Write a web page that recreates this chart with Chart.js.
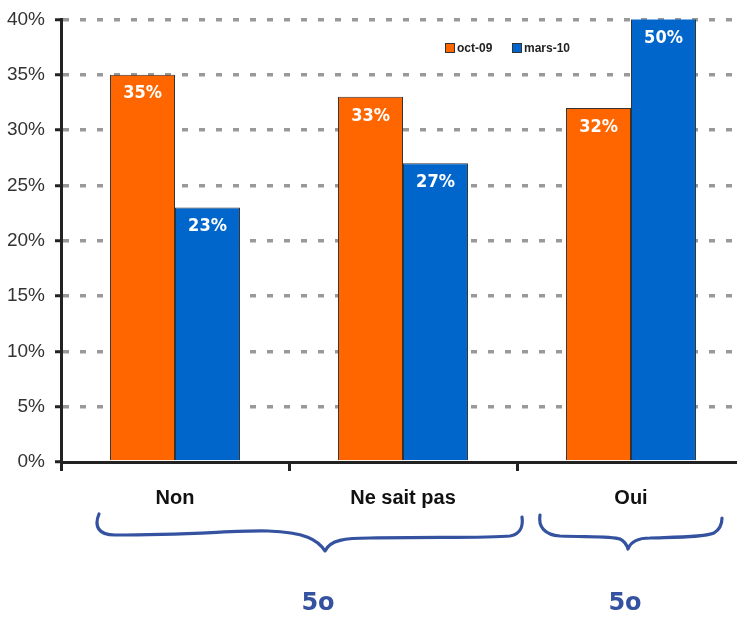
<!DOCTYPE html>
<html>
<head>
<meta charset="utf-8">
<script src="https://cdn.jsdelivr.net/npm/chart.js@4/dist/chart.umd.min.js"></script>
<style>
  html, body { margin: 0; padding: 0; background: #fff; }
  #wrap { width: 737px; height: 621px; overflow: hidden; }
  #chart { display: block; margin-top: -2px; }
</style>
</head>
<body>
<div id="wrap"><canvas id="chart" width="745" height="623"></canvas></div>
<script>
// Survey answers, two waves
const categories = ["Non", "Ne sait pas", "Oui"];
const seriesNames = ["oct-09", "mars-10"];
const oct09 = [35, 33, 32];
const mars10 = [23, 27, 50];
const yTicks = [0, 5, 10, 15, 20, 25, 30, 35, 40];

// Hand-written totals under the braces
const braceNotes = ["5o", "5o"];

const ORANGE = "#FF6600";
const BLUE = "#0066CC";
const INK = "#34529f";
const SHIFT = 2; // canvas is pulled up by this much

// White value labels inside the top of each bar
const valueLabels = {
    id: "valueLabels",
    afterDatasetsDraw(chart) {
        const ctx = chart.ctx;
        const top = chart.chartArea.top;
        ctx.save();
        ctx.fillStyle = "#fff";
        ctx.font = "bold 18px 'DejaVu Sans Condensed', 'Liberation Sans Narrow', 'DejaVu Sans', sans-serif";
        ctx.textAlign = "center";
        ctx.textBaseline = "middle";
        chart.data.datasets.forEach((ds, i) => {
            chart.getDatasetMeta(i).data.forEach((bar, j) => {
                const y = Math.max(bar.y, top) + 19;
                ctx.fillText(Math.round(ds.data[j]) + "%", bar.x, y);
            });
        });
        ctx.restore();
    }
};

// Small legend sitting inside the plot area
const innerLegend = {
    id: "innerLegend",
    afterDraw(chart) {
        const ctx = chart.ctx;
        const spots = [445, 512];
        ctx.save();
        ctx.translate(0, SHIFT);
        ctx.font = "bold 12px 'Liberation Sans', Arial, sans-serif";
        ctx.textBaseline = "middle";
        chart.data.datasets.forEach((ds, i) => {
            const x = spots[i];
            ctx.fillStyle = ds.backgroundColor;
            ctx.fillRect(x, 43, 9, 9);
            ctx.strokeStyle = "#333";
            ctx.lineWidth = 1;
            ctx.strokeRect(x + 0.5, 43.5, 9, 9);
            ctx.fillStyle = "#222";
            ctx.fillText(ds.label, x + 12, 48.5);
        });
        ctx.restore();
    }
};

// Curly braces grouping the answers, with a note under each
const braces = {
    id: "braces",
    afterDraw(chart) {
        const ctx = chart.ctx;
        ctx.save();
        ctx.translate(0, SHIFT);
        ctx.strokeStyle = INK;
        ctx.lineWidth = 3.2;
        ctx.lineCap = "round";
        ctx.lineJoin = "round";

        ctx.beginPath();
        ctx.moveTo(99, 514);
        ctx.bezierCurveTo(94, 526, 98, 535, 115, 535);
        ctx.bezierCurveTo(190, 535, 240, 530, 268, 531);
        ctx.bezierCurveTo(305, 532, 318, 540, 325, 551);
        ctx.bezierCurveTo(330, 540, 345, 538, 370, 538);
        ctx.bezierCurveTo(440, 537, 490, 538, 510, 536);
        ctx.bezierCurveTo(522, 534, 523, 524, 522, 517);
        ctx.stroke();

        ctx.beginPath();
        ctx.moveTo(540, 515);
        ctx.bezierCurveTo(538, 527, 545, 535, 560, 536);
        ctx.bezierCurveTo(590, 537, 612, 536, 620, 539);
        ctx.quadraticCurveTo(626, 542, 628, 549);
        ctx.bezierCurveTo(631, 541, 638, 538, 650, 538);
        ctx.bezierCurveTo(680, 537, 705, 537, 714, 533);
        ctx.quadraticCurveTo(722, 528, 722, 518);
        ctx.stroke();

        ctx.fillStyle = INK;
        ctx.font = "bold 24px 'DejaVu Sans', sans-serif";
        ctx.textAlign = "center";
        ctx.textBaseline = "middle";
        ctx.fillText(braceNotes[0], 318, 604);
        ctx.fillText(braceNotes[1], 625, 604);
        ctx.restore();
    }
};

new Chart(document.getElementById("chart"), {
    type: "bar",
    data: {
        labels: categories,
        datasets: [
            {
                label: seriesNames[0],
                data: oct09,
                backgroundColor: ORANGE,
                borderColor: "#333",
                borderWidth: 1
            },
            {
                label: seriesNames[1],
                data: mars10,
                backgroundColor: BLUE,
                borderColor: "#333",
                borderWidth: 1
            }
        ]
    },
    options: {
        responsive: false,
        devicePixelRatio: 1,
        animation: false,
        layout: { padding: { top: 17, right: 0, left: 0, bottom: 0 } },
        datasets: {
            bar: { categoryPercentage: 0.57, barPercentage: 1 }
        },
        plugins: {
            legend: { display: false },
            tooltip: { enabled: false }
        },
        scales: {
            x: {
                grid: {
                    drawOnChartArea: false,
                    drawTicks: true,
                    tickLength: 9,
                    tickWidth: 3,
                    tickColor: "#222"
                },
                border: { color: "#222", width: 3 },
                ticks: {
                    color: "#111",
                    padding: 15,
                    font: { family: "'Liberation Sans', Arial, sans-serif", size: 20, weight: "bold" }
                },
                afterFit(scale) { scale.height = 159; }
            },
            y: {
                min: 0,
                max: 40,
                afterBuildTicks(scale) {
                    scale.ticks = yTicks.map(v => ({ value: v }));
                },
                grid: {
                    color: ctx => ctx.tick && ctx.tick.value === 0 ? "rgba(0,0,0,0)" : "#999",
                    lineWidth: 3.5,
                    tickColor: "#222",
                    tickWidth: 3,
                    tickLength: 6,
                    tickBorderDash: [],
                    drawTicks: true
                },
                border: { color: "#222", width: 3, dash: [6, 11] },
                ticks: {
                    color: "#333",
                    padding: 10,
                    font: { family: "'Liberation Sans', Arial, sans-serif", size: 19 },
                    callback: v => v + "%"
                },
                afterFit(scale) { scale.width = 61; }
            }
        }
    },
    plugins: [valueLabels, innerLegend, braces]
});
</script>
</body>
</html>
